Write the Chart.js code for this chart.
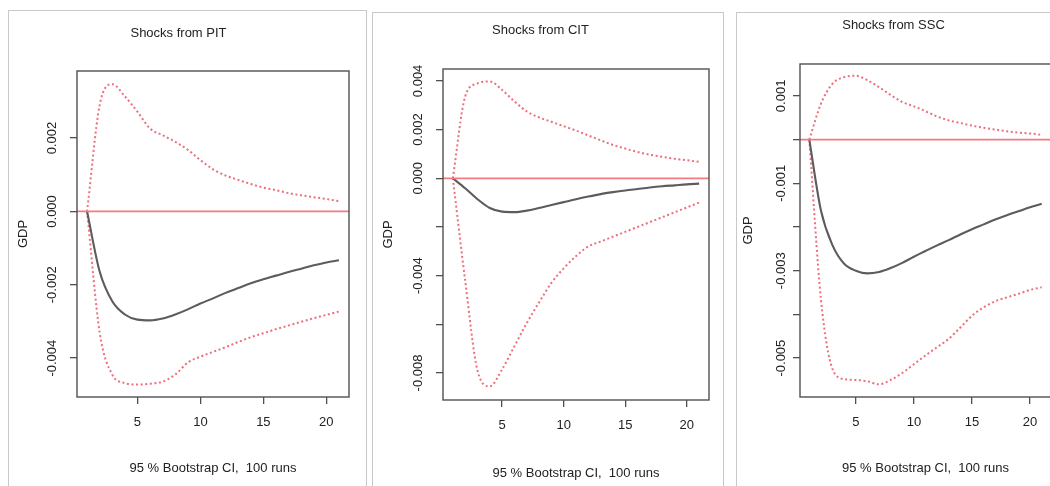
<!DOCTYPE html>
<html>
<head>
<meta charset="utf-8">
<script src="https://cdn.jsdelivr.net/npm/chart.js@4.4.1/dist/chart.umd.min.js"></script>
<style>
  html, body { margin: 0; padding: 0; background: #fff; overflow: hidden; }
  body { width: 1050px; height: 486px; position: relative; }
  .frame { position: absolute; border: 1px solid #c9c9c9; height: 520px; box-sizing: border-box; }
  canvas { position: absolute; top: 0; }
</style>
</head>
<body>
<div class="frame" style="left:8px; top:10px; width:359px;"></div>
<div class="frame" style="left:372px; top:12px; width:352px;"></div>
<div class="frame" style="left:736px; top:12px; width:340px;"></div>
<canvas id="pit" width="358" height="486" style="left:8px"></canvas>
<canvas id="cit" width="351" height="486" style="left:372px"></canvas>
<canvas id="ssc" width="330" height="486" style="left:736px"></canvas>
<script>
// horizon steps
const steps = [1, 2, 3, 4, 5, 6, 7, 8, 9, 10, 11, 12, 13, 14, 15, 16, 17, 18, 19, 20, 21];
const xTicks = [5, 10, 15, 20];
const xRange = [0.2, 21.8];
const zeroLevel = 0;

// Shocks from PIT
const pitUpper = [0, 0.0029, 0.00347, 0.00314, 0.00272, 0.00226, 0.00208, 0.0019, 0.00168, 0.0014, 0.00115, 0.00098, 0.00086, 0.00075, 0.00065, 0.00058, 0.0005, 0.00044, 0.00039, 0.00034, 0.00028];
const pitMean = [0, -0.00164, -0.00245, -0.00281, -0.00295, -0.00297, -0.00292, -0.00281, -0.00267, -0.00251, -0.00237, -0.00222, -0.00209, -0.00196, -0.00185, -0.00175, -0.00165, -0.00156, -0.00147, -0.00139, -0.00133];
const pitLower = [0, -0.0033, -0.00445, -0.00468, -0.00472, -0.0047, -0.00464, -0.00445, -0.00412, -0.00396, -0.00383, -0.0037, -0.00356, -0.00343, -0.00332, -0.00321, -0.00311, -0.00301, -0.00291, -0.00282, -0.00273];
const pitYTicks = [-0.004, -0.002, 0, 0.002];
const pitYLabels = ['-0.004', '-0.002', '0.000', '0.002'];
const pitYRange = [-0.00506, 0.00383];

// Shocks from CIT
const citUpper = [0, 0.00336, 0.0039, 0.00398, 0.00363, 0.00316, 0.00275, 0.0025, 0.00232, 0.00214, 0.00196, 0.00176, 0.00156, 0.00137, 0.00122, 0.00108, 0.00097, 0.00088, 0.0008, 0.00074, 0.00068];
const citMean = [0, -0.00041, -0.00086, -0.00122, -0.00137, -0.00139, -0.00133, -0.00122, -0.0011, -0.00098, -0.00086, -0.00075, -0.00065, -0.00057, -0.0005, -0.00044, -0.00038, -0.00033, -0.00029, -0.00025, -0.00022];
const citLower = [0, -0.0042, -0.0079, -0.00855, -0.00785, -0.0069, -0.00595, -0.0051, -0.0043, -0.0037, -0.0032, -0.0028, -0.0026, -0.0024, -0.0022, -0.002, -0.0018, -0.0016, -0.0014, -0.0012, -0.001];
const citYTicks = [-0.008, -0.006, -0.004, -0.002, 0, 0.002, 0.004];
const citYLabels = ['-0.008', '', '-0.004', '', '0.000', '0.002', '0.004'];
const citYRange = [-0.00911, 0.00449];

// Shocks from SSC
const sscUpper = [0, 0.00082, 0.00128, 0.00143, 0.00146, 0.00136, 0.0012, 0.00102, 0.00086, 0.00076, 0.00065, 0.00053, 0.00044, 0.00038, 0.00032, 0.00027, 0.00023, 0.00019, 0.00016, 0.00014, 0.00011];
const sscMean = [0, -0.00162, -0.00242, -0.00284, -0.003, -0.00306, -0.00303, -0.00294, -0.00282, -0.00268, -0.00255, -0.00242, -0.0023, -0.00217, -0.00205, -0.00194, -0.00183, -0.00173, -0.00164, -0.00155, -0.00147];
const sscLower = [0, -0.00365, -0.00525, -0.00548, -0.0055, -0.00553, -0.0056, -0.0055, -0.00534, -0.00514, -0.00494, -0.00475, -0.00456, -0.0043, -0.00403, -0.00384, -0.0037, -0.00361, -0.00353, -0.00344, -0.00338];
const sscYTicks = [-0.005, -0.004, -0.003, -0.002, -0.001, 0, 0.001];
const sscYLabels = ['-0.005', '', '-0.003', '', '-0.001', '', '0.001'];
const sscYRange = [-0.00589, 0.00173];

const FONT = "'Liberation Sans', Arial, Helvetica, sans-serif";
const TEXT = '#222';
const AXIS = '#505050';
const CI_RED = '#ec6f7c';
const LH = 13 * 1.2;

const pts = vals => vals.map((v, i) => ({ x: steps[i], y: v }));

// draws the R style box round the plot region
const boxPlugin = {
  id: 'box',
  afterDraw(chart) {
    const { ctx, chartArea: a } = chart;
    ctx.save();
    ctx.strokeStyle = AXIS;
    ctx.lineWidth = 1.4;
    ctx.strokeRect(a.left, a.top, a.right - a.left, a.bottom - a.top);
    ctx.restore();
  }
};

const makePanel = (id, title, upper, mean, lower, yTicks, yLabels, yRange, g) => {
  const canvas = document.getElementById(id);
  const W = canvas.width, H = canvas.height;
  return new Chart(canvas, {
    type: 'line',
    data: {
      datasets: [
        { data: [{ x: xRange[0], y: zeroLevel }, { x: xRange[1], y: zeroLevel }], borderColor: '#f47a82', borderWidth: 1.7 },
        { data: pts(mean), borderColor: '#5c5c5c', borderWidth: 2.1 },
        { data: pts(upper), borderColor: CI_RED, borderWidth: 2, borderDash: [2, 2.6] },
        { data: pts(lower), borderColor: CI_RED, borderWidth: 2, borderDash: [2, 2.6] }
      ]
    },
    options: {
      responsive: false,
      animation: false,
      devicePixelRatio: 1,
      clip: false,
      elements: { point: { radius: 0 }, line: { cubicInterpolationMode: 'monotone', fill: false } },
      layout: { padding: { left: 0, top: 0, right: W - g.r, bottom: 0 } },
      plugins: {
        legend: { display: false },
        tooltip: { enabled: false },
        title: {
          display: true,
          text: title,
          color: TEXT,
          font: { family: FONT, size: 13, weight: 'normal' },
          padding: { top: g.titleY - LH / 2, bottom: g.t - LH - (g.titleY - LH / 2) }
        }
      },
      scales: {
        x: {
          type: 'linear',
          min: xRange[0],
          max: xRange[1],
          afterFit: s => { s.height = H - g.b; },
          afterBuildTicks: s => { s.ticks = xTicks.map(v => ({ value: v })); },
          grid: { drawOnChartArea: false, drawTicks: true, tickLength: 7, color: AXIS, lineWidth: 1.3 },
          border: { display: false },
          ticks: {
            autoSkip: false,
            maxRotation: 0,
            color: TEXT,
            font: { family: FONT, size: 13 },
            padding: g.xTickY - g.b - 7 - LH / 2
          },
          title: {
            display: true,
            text: '95 % Bootstrap CI,  100 runs',
            color: TEXT,
            font: { family: FONT, size: 13 },
            padding: { top: 0, bottom: H - LH / 2 - g.xLabY }
          }
        },
        y: {
          type: 'linear',
          min: yRange[0],
          max: yRange[1],
          afterFit: s => { s.width = g.l; },
          afterBuildTicks: s => { s.ticks = yTicks.map(v => ({ value: v })); },
          grid: { drawOnChartArea: false, drawTicks: true, tickLength: 7, color: AXIS, lineWidth: 1.3 },
          border: { display: false },
          ticks: {
            autoSkip: false,
            minRotation: 90,
            maxRotation: 90,
            crossAlign: 'center',
            color: TEXT,
            font: { family: FONT, size: 13 },
            padding: g.l - 7 - 18.5 - g.yTickX,
            callback: (v, i) => yLabels[i]
          },
          title: {
            display: true,
            text: 'GDP',
            color: TEXT,
            font: { family: FONT, size: 13 },
            padding: { top: g.gdpX - LH / 2, bottom: 0 }
          }
        }
      }
    },
    plugins: [boxPlugin]
  });
};

makePanel('pit', 'Shocks from PIT', pitUpper, pitMean, pitLower, pitYTicks, pitYLabels, pitYRange,
  { l: 69, r: 341, t: 71, b: 397, titleY: 33, gdpX: 15, yTickX: 44, xTickY: 422, xLabY: 468 });
makePanel('cit', 'Shocks from CIT', citUpper, citMean, citLower, citYTicks, citYLabels, citYRange,
  { l: 71, r: 337, t: 69, b: 400, titleY: 30, gdpX: 16, yTickX: 46, xTickY: 425, xLabY: 473 });
makePanel('ssc', 'Shocks from SSC', sscUpper, sscMean, sscLower, sscYTicks, sscYLabels, sscYRange,
  { l: 64, r: 315, t: 64, b: 397, titleY: 25, gdpX: 12, yTickX: 45, xTickY: 422, xLabY: 468 });
</script>
</body>
</html>
